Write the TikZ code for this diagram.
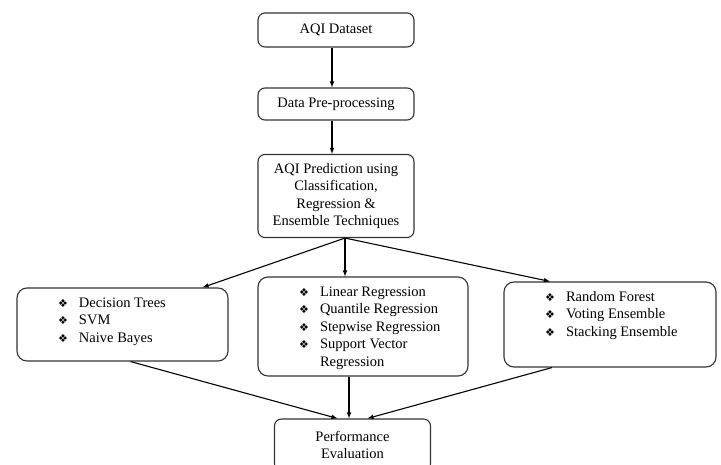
\documentclass[tikz,border=0pt]{standalone}
\usepackage{fontspec}
\setmainfont{Liberation Serif}
\newfontfamily\symfont{DejaVu Sans}
\usetikzlibrary{arrows,positioning}
\newcommand{\bul}{\makebox[21pt][l]{\symfont\fontsize{11}{11}\selectfont ❖}}
\tikzset
{
    stagebox/.style  = {draw=black!80, rounded corners=7pt, align=center, minimum width=156pt, inner sep=2pt, font=\fontsize{14.5}{17.5}\selectfont},
    methodbox/.style = {draw=black!80, rounded corners=10pt, inner sep=0pt, font=\fontsize{14.5}{17.5}\selectfont}
}
\begin{document}
\begin{tikzpicture}[x=1pt, y=-1pt, line width=1.1pt, >=latex]
\useasboundingbox (0,0) rectangle (721,465);
\node [stagebox, minimum height=34pt] at (336,30) (data) {AQI Dataset};
\node [stagebox, minimum height=32pt] at (336,104) (prep) {Data Pre-processing};
\node [stagebox, minimum height=83pt] at (336,196) (pred) {AQI Prediction using\\Classification,\\Regression \&\\Ensemble Techniques};
\node [methodbox] at (122.5,324.5) (clf) {\parbox[c][73pt][t]{211pt}{\leftskip=41pt\rule{0pt}{19.5pt}\bul Decision Trees\\\bul SVM\\\bul Naive Bayes}};
\node [methodbox] at (363,326.5) (reg) {\parbox[c][99pt][t]{210pt}{\leftskip=41pt\rule{0pt}{19.5pt}\bul Linear Regression\\\bul Quantile Regression\\\bul Stepwise Regression\\\bul Support Vector\\\hspace*{21pt}Regression}};
\node [methodbox] at (610,324.5) (ens) {\parbox[c][85pt][t]{212pt}{\leftskip=41pt\rule{0pt}{19.5pt}\bul Random Forest\\\bul Voting Ensemble\\\bul Stacking Ensemble}};
\node [stagebox, minimum height=52pt] at (352.5,445) (eval) {Performance\\Evaluation};
\coordinate (fork) at ([xshift=9pt]pred.south);
\draw [->] ([xshift=-4pt]data.south) -- ([xshift=-4pt]prep.north);
\draw [->] ([xshift=-4pt]prep.south) -- ([xshift=-4pt]pred.north);
\draw [->] (fork) -- ([xshift=80pt]clf.north);
\draw [->] (fork) -- ([xshift=-18pt]reg.north);
\draw [->] (fork) -- ([xshift=-60pt]ens.north);
\draw [->] ([xshift=8pt]clf.south) -- ([xshift=-15pt]eval.north);
\draw [->] ([xshift=-14pt]reg.south) -- ([xshift=-3.5pt]eval.north);
\draw [->] ([xshift=-58pt]ens.south) -- ([xshift=15pt]eval.north);
\end{tikzpicture}
\end{document}
